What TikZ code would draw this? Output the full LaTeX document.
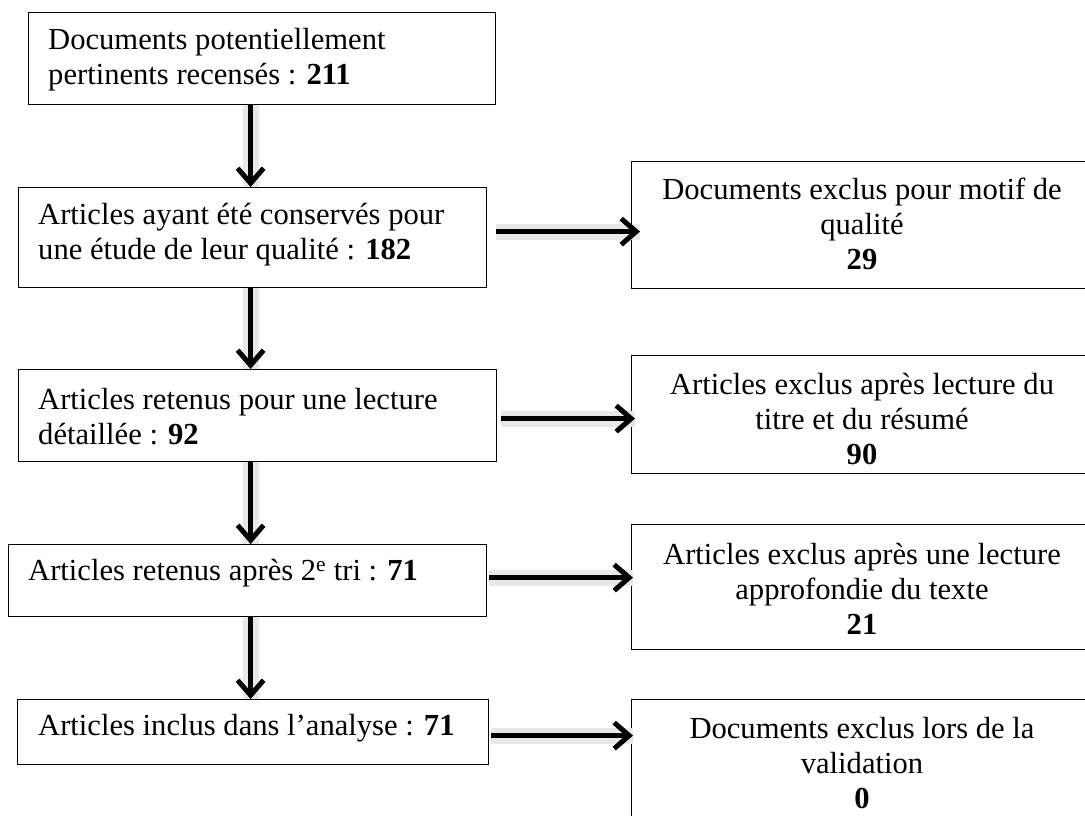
\documentclass[tikz,border=0pt]{standalone}
\usepackage{fontspec}
\setmainfont{Liberation Serif}
\usetikzlibrary{arrows.meta}
\begin{document}
\begin{tikzpicture}[x=1pt,y=-1pt,
  lbox/.style={draw=black,line width=1.2pt,inner sep=0pt,anchor=north west},
  ltext/.style={inner sep=0pt,anchor=west,align=left,font=\fontsize{30.6}{35}\selectfont},
  rtext/.style={inner sep=0pt,anchor=center,align=center,font=\fontsize{30.6}{35}\selectfont},
  flowarrow/.style={line width=5pt,black,-{Straight Barb[length=15pt,width=26pt]},
    preaction={draw=gray!18,line width=16pt,-}},
]
\path[use as bounding box] (0,0) rectangle (1085,815);
\clip (0,0) rectangle (1085,815);
\fill[white] (0,0) rectangle (1085,815);

% left boxes
\node[lbox,minimum width=467pt,minimum height=92pt] (b1) at (28,12) {};
\node[lbox,minimum width=468pt,minimum height=100pt] (b2) at (18,187) {};
\node[lbox,minimum width=478pt,minimum height=92pt] (b3) at (18,369) {};
\node[lbox,minimum width=478pt,minimum height=72pt] (b4) at (8,544) {};
\node[lbox,minimum width=471pt,minimum height=65pt] (b5) at (17,699) {};

% right boxes (cut by the right edge)
\node[lbox,minimum width=462pt,minimum height=127pt] (r1) at (631,161) {};
\node[lbox,minimum width=462pt,minimum height=118pt] (r2) at (631,355) {};
\node[lbox,minimum width=462pt,minimum height=125pt] (r3) at (631,524) {};
\node[lbox,minimum width=462pt,minimum height=135pt] (r4) at (631,699) {};

% left texts
\node[ltext] (t1) at (48,60) {Documents potentiellement\\pertinents recensés : \textbf{211}};
\node[ltext] (t2) at (38,235) {Articles ayant été conservés pour\\une étude de leur qualité : \textbf{182}};
\node[ltext] (t3) at (38,417) {Articles retenus pour une lecture\\détaillée : \textbf{92}};
\node[ltext] (t4) at (28,573) {Articles retenus après 2\textsuperscript{e} tri : \textbf{71}};
\node[ltext] (t5) at (38,728) {Articles inclus dans l’analyse : \textbf{71}};

% right texts
\node[rtext] (s1) at (862,224) {Documents exclus pour motif de\\qualité\\\textbf{29}};
\node[rtext] (s2) at (862,419) {Articles exclus après lecture du\\titre et du résumé\\\textbf{90}};
\node[rtext] (s3) at (862,589) {Articles exclus après une lecture\\approfondie du texte\\\textbf{21}};
\node[rtext] (s4) at (862,763) {Documents exclus lors de la\\validation\\\textbf{0}};

% vertical arrows
\draw[flowarrow] ([xshift=-11.5pt]b1.south) -- ([xshift=-2pt]b2.north);
\draw[flowarrow] ([xshift=-2pt]b2.south) -- ([xshift=-7pt]b3.north);
\draw[flowarrow] ([xshift=-7pt]b3.south) -- ([xshift=3pt]b4.north);
\draw[flowarrow] ([xshift=3pt]b4.south) -- ([xshift=-2.5pt]b5.north);

% horizontal arrows
\draw[flowarrow] ([xshift=9pt,yshift=6pt]b2.east) -- ([xshift=9pt,yshift=6pt]b2.east -| r1.west);
\draw[flowarrow] ([xshift=4pt,yshift=-3pt]b3.east) -- ([xshift=4pt,yshift=-3pt]b3.east -| r2.west);
\draw[flowarrow] ([xshift=2pt,yshift=3pt]b4.east) -- ([xshift=2pt,yshift=3pt]b4.east -| r3.west);
\draw[flowarrow] ([xshift=2pt,yshift=-3.5pt]b5.east) -- ([xshift=2pt,yshift=-3.5pt]b5.east -| r4.west);
\end{tikzpicture}
\end{document}
